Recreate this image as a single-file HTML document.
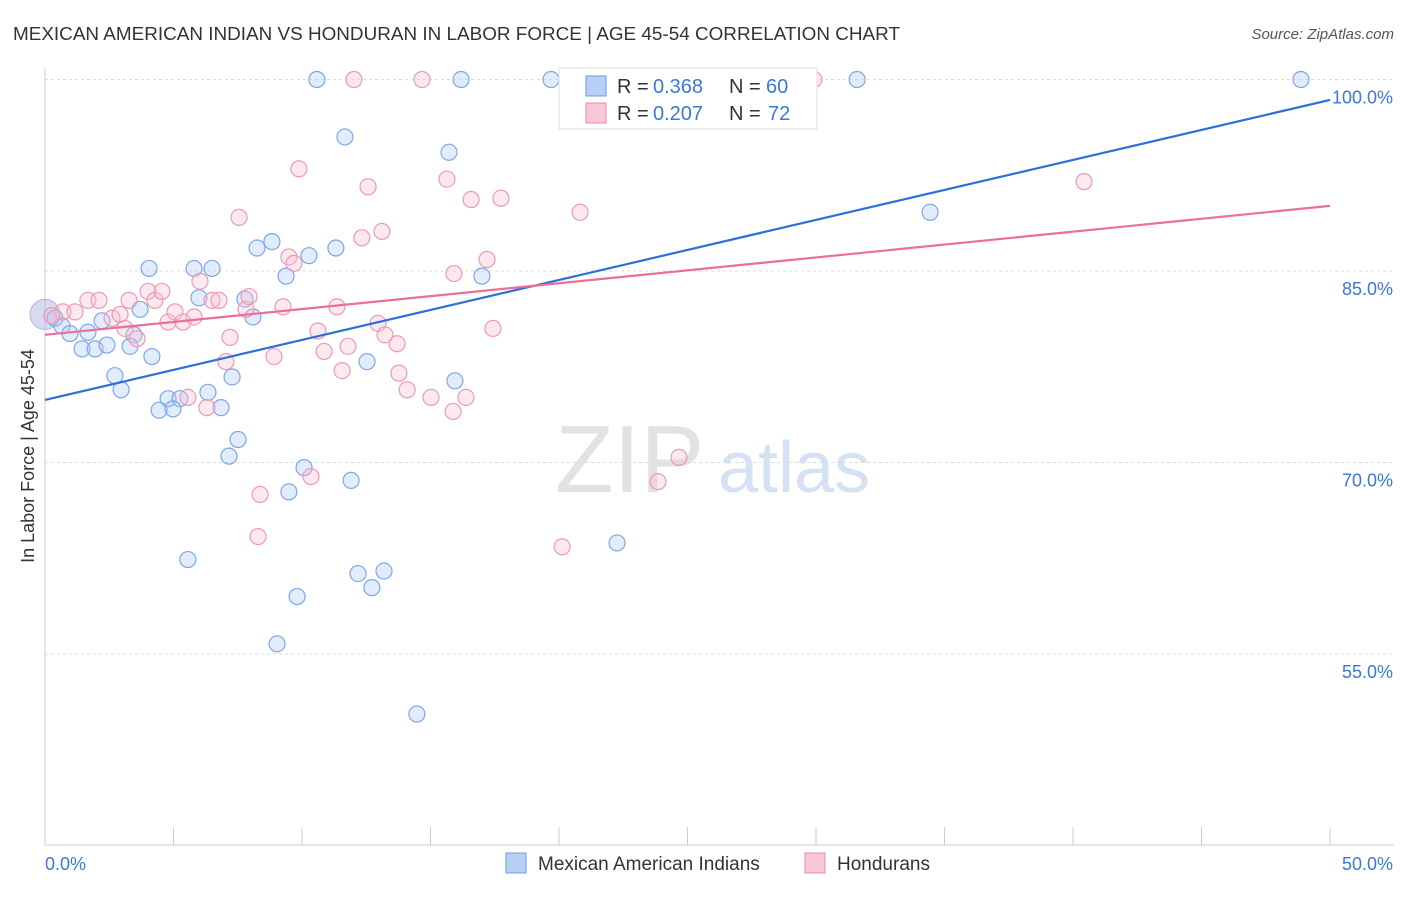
<!DOCTYPE html>
<html><head><meta charset="utf-8"><style>
body{margin:0;background:#fff;font-family:"Liberation Sans",sans-serif;}
svg text{font-family:"Liberation Sans",sans-serif;}
</style></head><body>
<svg id="c" width="1406" height="892" xmlns="http://www.w3.org/2000/svg">
<text x="13" y="40" font-size="18" fill="#333" textLength="887" lengthAdjust="spacingAndGlyphs">MEXICAN AMERICAN INDIAN VS HONDURAN IN LABOR FORCE | AGE 45-54 CORRELATION CHART</text>
<text x="1394" y="39" font-size="15" fill="#555" font-style="italic" text-anchor="end">Source: ZipAtlas.com</text>
<text x="34" y="456" font-size="18" fill="#333" text-anchor="middle" transform="rotate(-90 34 456)">In Labor Force | Age 45-54</text>
<g id="grid"></g>
<text x="555" y="492" font-size="96" fill="#e2e2e2" font-family="Liberation Serif">ZIP</text>
<text x="718" y="492" font-size="72" fill="#d4e2f4">atlas</text>
<g id="pts"></g>
<g id="lines"></g>
<g>
<rect x="559" y="68" width="258" height="61" fill="#fff" stroke="#ddd"/>
<rect x="586" y="76" width="20" height="20" fill="#b8d0f5" stroke="#6e9de0"/>
<text x="617" y="93" font-size="20" fill="#333">R =</text>
<text x="653" y="93" font-size="20" fill="#3b78d8">0.368</text>
<text x="729" y="93" font-size="20" fill="#333">N =</text>
<text x="766" y="93" font-size="20" fill="#3b78d8">60</text>
<rect x="586" y="103" width="20" height="20" fill="#f9c8d8" stroke="#e88aa8"/>
<text x="617" y="120" font-size="20" fill="#333">R =</text>
<text x="653" y="120" font-size="20" fill="#3b78d8">0.207</text>
<text x="729" y="120" font-size="20" fill="#333">N =</text>
<text x="768" y="120" font-size="20" fill="#3b78d8">72</text>
</g>
<g>
<rect x="506" y="853" width="20" height="20" fill="#b8d0f5" stroke="#6e9de0"/>
<text x="538" y="870" font-size="19" fill="#333">Mexican American Indians</text>
<rect x="805" y="853" width="20" height="20" fill="#f9c8d8" stroke="#e88aa8"/>
<text x="837" y="870" font-size="19" fill="#333">Hondurans</text>
</g>
</svg>
<script>
const yTicks=[55,70,85,100];
const yTickLabels=["55.0%","70.0%","85.0%","100.0%"];
const xTickLabels=["0.0%","50.0%"];
const blueX=[10.58,16.19,19.69,26.26,31.60,48.87,11.67,15.72,34.44,8.83,8.25,10.27,11.32,4.05,5.80,6.50,9.38,17.00,5.99,7.78,3.70,8.09,0.39,0.66,0.97,1.67,2.22,3.46,1.44,1.95,2.41,3.31,4.16,12.53,2.72,7.28,2.96,6.34,4.79,5.25,4.44,4.98,6.85,15.95,7.51,7.16,10.08,11.91,9.49,22.26,5.56,12.18,13.19,12.72,9.81,9.03,14.47];
const blueY=[100,100,100,100,100,100,95.5,94.3,89.6,87.3,86.8,86.2,86.8,85.2,85.2,85.2,84.6,84.6,82.9,82.8,82.0,81.4,81.3,80.7,80.1,80.2,81.1,80.0,78.9,78.9,79.2,79.1,78.3,77.9,76.8,76.7,75.7,75.5,75.0,75.0,74.1,74.2,74.3,76.4,71.8,70.5,69.6,68.6,67.7,63.7,62.4,61.3,61.5,60.2,59.5,55.8,50.3];
const pinkX=[12.02,14.67,28.44,29.92,9.88,12.57,15.64,17.74,16.58,40.43,20.82,7.55,13.11,12.33,9.49,9.69,17.20,15.91,6.03,0.70,1.17,1.67,2.10,2.61,2.92,3.11,3.27,3.58,4.01,4.28,4.55,4.79,5.06,5.37,5.80,5.56,6.50,6.77,7.20,7.82,7.94,9.26,7.04,8.91,10.62,11.36,10.86,11.56,11.79,12.96,13.23,13.70,13.77,14.09,15.02,15.88,16.38,17.43,24.67,23.85,6.30,8.37,8.29,10.35,20.12,0.27];
const pinkY=[100,100,100,100,93.0,91.6,92.2,90.7,90.6,92.0,89.6,89.2,88.1,87.6,86.1,85.6,85.9,84.8,84.2,81.8,81.8,82.7,82.7,81.3,81.6,80.5,82.7,79.7,83.4,82.7,83.4,81.0,81.8,81.0,81.4,75.1,82.7,82.7,79.8,82.0,83.0,82.2,77.9,78.3,80.3,82.2,78.7,77.2,79.1,80.9,80.0,79.3,77.0,75.7,75.1,74.0,75.1,80.5,70.4,68.5,74.3,67.5,64.2,68.9,63.4,81.5];
const blueTrend=[74.9,98.4];
const pinkTrend=[80.0,90.1];
const NS="http://www.w3.org/2000/svg";
const X0=45,X1=1330,Y100=79.5,PPU=12.767;
function sx(v){return X0+(X1-X0)*v/50;}
function sy(v){return Y100+(100-v)*PPU;}
function mk(t,a,p){const e=document.createElementNS(NS,t);for(const k in a)e.setAttribute(k,a[k]);p.appendChild(e);return e;}
const grid=document.getElementById('grid');
yTicks.forEach((t,i)=>{
 const l=mk('line',{x1:X0,x2:1394,y1:sy(t),y2:sy(t),stroke:'#ddd','stroke-dasharray':'3,3'},grid);
 
 
 const tx=mk('text',{x:1393,y:sy(t)+24,'font-size':18,fill:'#3b78d8','text-anchor':'end'},grid);
 tx.textContent=yTickLabels[i];
 
 
});
const ax=mk('line',{x1:X0,x2:X0,y1:68,y2:845,stroke:'#ccc'},grid);


const bx=mk('line',{x1:X0,x2:1394,y1:845,y2:845,stroke:'#ccc'},grid);


for(let i=0;i<=10;i++){const t=mk('line',{x1:sx(i*5),x2:sx(i*5),y1:827,y2:845,stroke:'#ccc'},grid);
 
 }
[[0,'start',45],[50,'end',1393]].forEach((d,i)=>{const t=mk('text',{x:d[2],y:870,'font-size':18,fill:'#3b78d8','text-anchor':d[1]},grid);t.textContent=xTickLabels[i];
 
 });
const pts=document.getElementById('pts');
const big1=mk('circle',{cx:sx(0),cy:sy(81.6),r:15,fill:'rgba(180,180,225,0.5)',stroke:'#a9b6e6'},pts);


blueX.forEach((v,i)=>{const c=mk('circle',{cx:sx(v),cy:sy(blueY[i]),r:8,fill:'rgba(170,200,245,0.35)',stroke:'#7fa6e6','stroke-width':1.2},pts);
 
 });
pinkX.forEach((v,i)=>{const c=mk('circle',{cx:sx(v),cy:sy(pinkY[i]),r:8,fill:'rgba(248,190,210,0.35)',stroke:'#eb9ab5','stroke-width':1.2},pts);
 
 });
const lines=document.getElementById('lines');
const bl=mk('line',{x1:sx(0),y1:sy(blueTrend[0]),x2:sx(50),y2:sy(blueTrend[1]),stroke:'#2a72d8','stroke-width':2.2},lines);


const pl=mk('line',{x1:sx(0),y1:sy(pinkTrend[0]),x2:sx(50),y2:sy(pinkTrend[1]),stroke:'#e8709a','stroke-width':2.2},lines);


</script>
</body></html>
